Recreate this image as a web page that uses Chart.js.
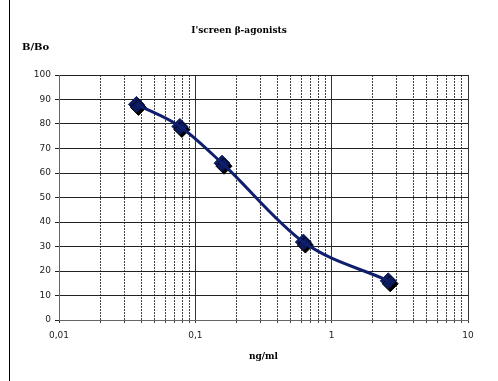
<!DOCTYPE html>
<html>
<head>
<meta charset="utf-8">
<script src="https://cdn.jsdelivr.net/npm/chart.js@4/dist/chart.umd.min.js"></script>
<style>
  html, body { margin: 0; padding: 0; background: #fff; }
  #wrap { position: relative; width: 498px; height: 381px; }
  #edge { position: absolute; left: 9px; top: 0; width: 1px; height: 381px; background: #000; }
</style>
</head>
<body>
<div id="wrap">
  <canvas id="chart" width="498" height="381"></canvas>
  <div id="edge"></div>
</div>
<script>
var concentrations = [0.037, 0.077, 0.157, 0.62, 2.6];
var bBo = [88, 79, 64, 31.8, 16];
var xMin = 0.01, xMax = 10;
var yMin = 0, yMax = 100, yStep = 10;
var chartTitle = "I'screen \u03b2-agonists";
var yTitle = 'B/Bo';
var xTitle = 'ng/ml';

function isDecade(v) {
    var l = Math.log10(v);
    return Math.abs(l - Math.round(l)) < 1e-9;
}

// keep 1..9 x 10^n only
function isWholeStep(v) {
    var s = v / Math.pow(10, Math.floor(Math.log10(v) + 1e-9));
    return Math.abs(s - Math.round(s)) < 1e-6;
}

var points = concentrations.map(function(c, i) { return { x: c, y: bBo[i] }; });

var textPlugin = {
    id: 'texts',
    afterDraw: function(chart) {
        var ctx = chart.ctx, area = chart.chartArea;
        ctx.save();
        ctx.fillStyle = '#000';
        ctx.font = 'bold 9px "DejaVu Serif"';
        ctx.textBaseline = 'middle';
        ctx.textAlign = 'center';
        ctx.fillText(chartTitle, 239, 31);
        ctx.fillText(xTitle, (area.left + area.right) / 2, 357);
        ctx.textAlign = 'left';
        ctx.font = 'bold 10px "DejaVu Serif"';
        ctx.fillText(yTitle, 22, 47);
        ctx.restore();
    }
};

var shadowPlugin = {
    id: 'markerShadow',
    beforeDatasetDraw: function(chart, args) {
        if (args.index !== 1) return;
        var ctx = chart.ctx;
        ctx.save();
        ctx.shadowColor = '#000';
        ctx.shadowOffsetX = 2;
        ctx.shadowOffsetY = 3;
        ctx.shadowBlur = 0;
    },
    afterDatasetDraw: function(chart, args) {
        if (args.index !== 1) return;
        chart.ctx.restore();
    }
};

new Chart(document.getElementById('chart'), {
    type: 'scatter',
    data: {
        datasets: [{
            data: points,
            showLine: true,
            borderColor: '#0f1f6e',
            borderWidth: 3,
            tension: 0.4,
            cubicInterpolationMode: 'monotone',
            pointRadius: 0
        }, {
            data: points,
            showLine: false,
            pointStyle: 'rectRot',
            pointRadius: 8,
            pointBackgroundColor: '#0b1a5e',
            pointBorderColor: '#0b1a5e',
            pointBorderWidth: 1
        }]
    },
    options: {
        responsive: false,
        animation: false,
        layout: { padding: { left: 0, top: 75, right: 30, bottom: 0 } },
        plugins: {
            legend: { display: false },
            tooltip: { enabled: false }
        },
        scales: {
            x: {
                type: 'logarithmic',
                min: xMin,
                max: xMax,
                afterFit: function(scale) { scale.height = 61; },
                afterBuildTicks: function(scale) {
                    scale.ticks = scale.ticks.filter(function(t) { return isWholeStep(t.value); });
                },
                grid: {
                    color: function(ctx) {
                        return ctx.tick && isDecade(ctx.tick.value) ? '#333' : '#444';
                    },
                    lineWidth: 1,
                    tickLength: 3
                },
                border: {
                    color: '#666',
                    width: 1,
                    dash: function(ctx) {
                        if (!ctx.tick) return [];
                        return isDecade(ctx.tick.value) ? [] : [2, 1];
                    }
                },
                ticks: {
                    autoSkip: false,
                    maxRotation: 0,
                    padding: 7,
                    color: '#222',
                    font: { family: '"DejaVu Sans"', size: 9 },
                    callback: function(v) {
                        if (!isDecade(v)) return '';
                        return String(v).replace('.', ',');
                    }
                }
            },
            y: {
                min: yMin,
                max: yMax,
                afterFit: function(scale) { scale.width = 59; },
                grid: { color: '#222', lineWidth: 1, tickLength: 4 },
                border: { color: '#666', width: 1 },
                ticks: {
                    stepSize: yStep,
                    padding: 4,
                    color: '#222',
                    font: { family: '"DejaVu Sans"', size: 9 }
                }
            }
        }
    },
    plugins: [textPlugin, shadowPlugin]
});
</script>
</body>
</html>
